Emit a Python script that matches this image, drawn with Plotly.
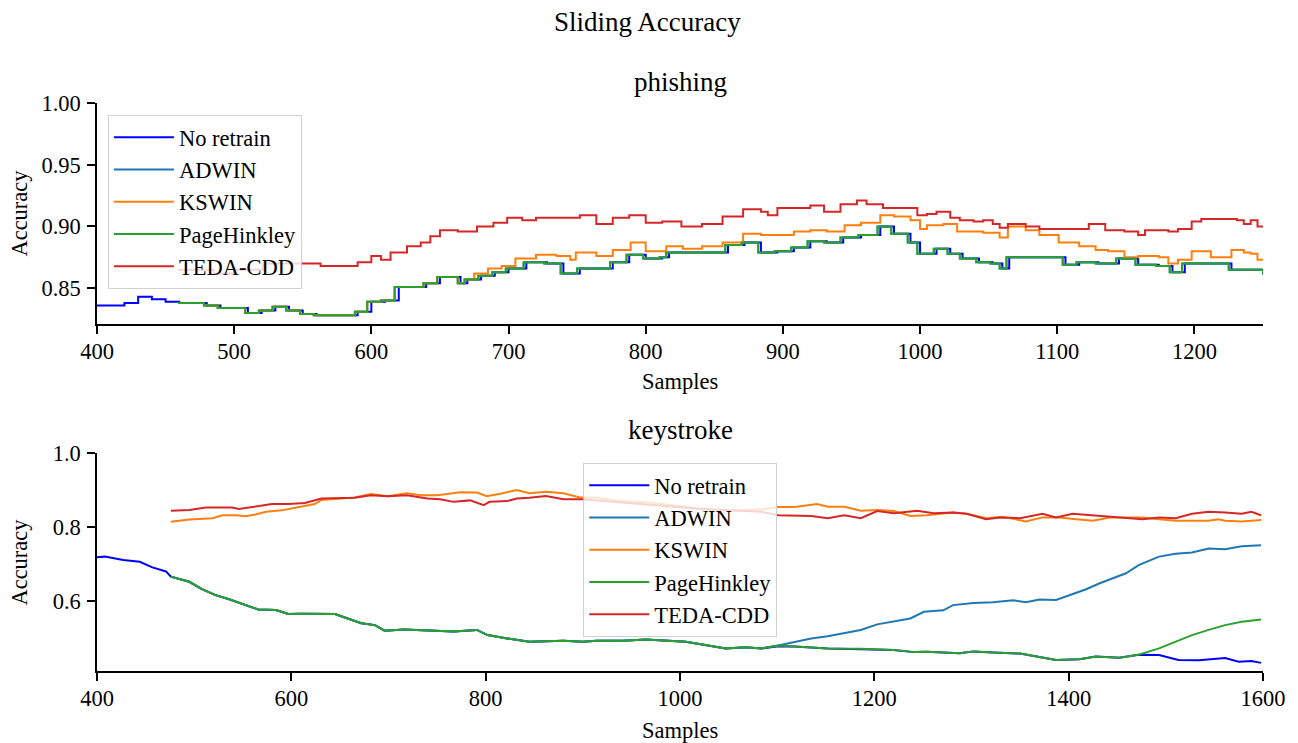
import plotly.graph_objects as go

# ---------------- phishing ----------------
phish_none_x = [400, 410, 420, 430, 440, 450, 460, 470, 480, 490, 500, 510, 520, 530, 540, 550, 560, 570, 580, 590,
                600, 610, 620, 630, 640, 650, 660, 665, 670, 680, 690, 700, 713, 728, 740, 752, 764, 776, 788, 800,
                812, 817, 836, 860, 872, 884, 896, 908, 920, 932, 944, 957, 971, 981, 993, 1000, 1012, 1022, 1031,
                1043, 1053, 1060, 1065, 1077, 1099, 1106, 1116, 1130, 1145, 1159, 1174, 1184, 1193, 1212, 1227, 1241, 1250]
phish_none_y = [.836, .836, .838, .843, .841, .839, .838, .838, .836, .834, .834, .830, .832, .835, .832, .829, .828, .828,
                .828, .831, .839, .840, .851, .851, .854, .859, .859, .854, .857, .860, .863, .866, .871, .870, .862, .866,
                .866, .871, .877, .874, .875, .879, .879, .885, .887, .879, .880, .883, .888, .887, .891, .893, .900, .894,
                .887, .878, .882, .878, .874, .871, .870, .866, .875, .875, .875, .869, .871, .870, .874, .869, .868, .863,
                .870, .870, .865, .865, .861]

phish_ph_x = [459, 468, 478, 488, 498, 508, 518, 528, 538, 548, 558, 568, 578, 588, 597, 607, 617, 628, 638, 648,
              658, 663, 668, 678, 688, 698, 711, 726, 738, 750, 762, 774, 786, 798, 810, 815, 834, 858, 870, 882,
              894, 906, 918, 930, 942, 955, 969, 979, 991, 998, 1010, 1020, 1029, 1041, 1051, 1058, 1063, 1075, 1097,
              1104, 1114, 1128, 1143, 1157, 1172, 1182, 1191, 1210, 1225, 1239, 1250]
phish_ph_y = [.838, .838, .836, .834, .834, .830, .832, .835, .832, .829,
              .828, .828, .828, .831, .839, .840, .851, .851, .854, .859,
              .859, .854, .857, .860, .863, .866, .871, .870, .862, .866,
              .866, .871, .877, .874, .875, .879, .879, .885, .887, .879,
              .880, .883, .888, .887, .891, .893, .900, .894, .887, .878,
              .882, .878, .874, .871, .870, .866, .875, .875, .875, .869,
              .871, .870, .874, .869, .868, .863, .870, .870, .865, .865, .861]

phish_adwin_x = list(phish_ph_x)
phish_adwin_y = list(phish_ph_y)

phish_kswin_x = [459, 468, 478, 488, 498, 508, 518, 528, 538, 548, 558, 568, 578, 588, 597, 607, 617, 628, 638, 648,
                 658, 663, 668, 675, 685, 695, 705, 720, 735, 745, 749, 764, 776, 789, 800, 815, 827, 841, 856, 871,
                 884, 896, 908, 920, 932, 945, 957, 971, 981, 993, 1000, 1005, 1017, 1027, 1046, 1058, 1064, 1077, 1087,
                 1101, 1111, 1116, 1128, 1137, 1149, 1159, 1174, 1181, 1188, 1198, 1212, 1227, 1236, 1241, 1246, 1250]
phish_kswin_y = [.838, .838, .836, .834, .834, .830, .832, .835, .832, .829, .828, .828, .828, .831, .839, .840, .851,
                 .851, .854, .859, .859, .854, .857,
                 .862, .866, .868, .874, .877, .876, .873, .879, .876, .881, .887, .880, .884, .882, .884, .887, .894,
                 .893, .893, .896, .897, .896, .901, .903, .909, .908, .905, .898, .901, .902, .896, .895, .891, .900,
                 .897, .893, .887, .887, .884, .881, .880, .875, .876, .875, .870, .873, .880, .875, .881, .879, .878,
                 .873, .873]

phish_teda_x = [459, 485, 500, 521, 563, 590, 600, 607, 614, 626, 636, 643, 650, 663, 677, 689, 699, 710, 720, 735,
                752, 764, 776, 788, 800, 812, 826, 841, 856, 871, 884, 889, 896, 908, 920, 930, 942, 954, 961, 973,
                981, 993, 998, 1005, 1012, 1022, 1029, 1039, 1046, 1053, 1058, 1064, 1077, 1087, 1108, 1123, 1135,
                1149, 1159, 1164, 1181, 1188, 1198, 1205, 1222, 1231, 1236, 1241, 1246, 1250]
phish_teda_y = [.865, .862, .865, .870, .868, .871, .876, .873, .879, .884, .887, .892, .897, .896, .900, .903, .907,
                .905, .907, .907, .909, .902, .907, .909, .903, .904, .900, .902, .908, .914, .912, .909, .915, .915,
                .917, .912, .918, .921, .918, .915, .915, .915, .909, .910, .912, .907, .905, .904, .905, .902, .899,
                .902, .900, .898, .898, .902, .897, .896, .893, .897, .896, .898, .904, .906, .906, .905, .902, .905,
                .900, .900]

# ---------------- keystroke ----------------
key_none_x = [400, 408, 427, 444, 457, 471, 476, 495, 508, 522, 536, 553, 566, 584, 597, 610, 631, 645, 658, 672,
              686, 696, 716, 733, 750, 767, 791, 802, 822, 845, 880, 900, 914, 941, 965, 988, 1006, 1026, 1047, 1067,
              1084, 1101, 1118, 1152, 1186, 1220, 1241, 1254, 1288, 1302, 1322, 1350, 1367, 1387, 1411, 1428, 1452,
              1472, 1493, 1513, 1534, 1561, 1575, 1588, 1598]
key_none_y = [.718, .720, .711, .706, .691, .680, .666, .652, .632, .616, .605, .589, .577, .576, .565, .566, .565, .565,
              .553, .540, .535, .520, .523, .522, .520, .518, .522, .508, .499, .490, .493, .490, .493, .493, .496, .493,
              .490, .481, .472, .475, .472, .478, .477, .472, .471, .468, .462, .463, .459, .464, .461, .458, .450, .441,
              .443, .450, .447, .455, .454, .441, .440, .446, .436, .438, .433]

key_ph_x = [476, 495, 508, 522, 536, 553, 566, 584, 597, 610, 631, 645, 658, 672, 686, 696, 716, 733, 750, 767,
            791, 802, 822, 845, 880, 900, 914, 941, 965, 988, 1006, 1026, 1047, 1067, 1084, 1101, 1118, 1152, 1186,
            1220, 1241, 1254, 1288, 1302, 1322, 1350, 1367, 1387, 1411, 1428, 1452, 1472, 1493, 1510, 1527, 1544,
            1561, 1578, 1598]
key_ph_y = [.666, .652, .632, .616, .605, .589, .577, .576, .565, .566, .565, .565, .553, .540, .535, .520, .523, .522,
            .520, .518, .522, .508, .499, .490, .493, .490, .493, .493, .496, .493, .490, .481, .472, .475, .472, .480,
            .477, .472, .471, .468, .462, .463, .459, .464, .461, .458, .450, .441, .443, .450, .447, .455, .472, .490,
            .508, .522, .535, .544, .550]

key_adwin_x = [476, 495, 508, 522, 536, 553, 566, 584, 597, 610, 631, 645, 658, 672, 686, 696, 716, 733, 750, 767,
               791, 802, 822, 845, 880, 900, 914, 941, 965, 988, 1006, 1026, 1047, 1067, 1084, 1101,
               1118, 1135, 1152, 1169, 1186, 1203, 1220, 1237, 1251, 1271, 1281, 1302, 1322, 1343, 1356, 1370, 1387,
               1401, 1418, 1432, 1445, 1459, 1472, 1493, 1510, 1527, 1544, 1561, 1578, 1598]
key_adwin_y = [.666, .652, .632, .616, .605, .589, .577, .576, .565, .566, .565, .565, .553, .540, .535, .520, .523,
               .522, .520, .518, .522, .508, .499, .490, .493, .490, .493, .493, .496, .493, .490, .481, .472, .475,
               .472, .480,
               .490, .499, .505, .513, .522, .537, .545, .553, .571, .575, .589, .595, .597, .602, .597, .604, .603,
               .616, .632, .648, .661, .675, .697, .720, .728, .731, .742, .740, .748, .751]

key_kswin_x = [476, 495, 519, 529, 543, 553, 563, 574, 590, 600, 614, 624, 631, 665, 682, 699, 719, 733, 750, 774,
               791, 801, 815, 832, 845, 862, 880, 897, 914, 931, 948, 965, 982, 999, 1016, 1036, 1067, 1084, 1101,
               1118, 1141, 1152, 1169, 1186, 1203, 1220, 1237, 1254, 1281, 1295, 1315, 1332, 1356, 1373, 1390, 1408,
               1425, 1442, 1476, 1493, 1510, 1527, 1544, 1554, 1561, 1578, 1598]
key_kswin_y = [.814, .820, .824, .832, .832, .829, .834, .841, .845, .850, .855, .862, .873, .880, .889, .883, .891,
               .886, .886, .894, .893, .883, .890, .900, .891, .895, .891, .880, .880, .873, .869, .867, .862, .855,
               .850, .845, .845, .848, .854, .854, .862, .855, .855, .844, .846, .843, .830, .832, .839, .836, .824,
               .828, .815, .826, .826, .821, .817, .826, .826, .821, .817, .817, .817, .821, .817, .815, .819]

key_teda_x = [476, 495, 512, 539, 546, 560, 580, 597, 614, 631, 648, 665, 682, 699, 719, 740, 753, 767, 784, 798,
              804, 822, 832, 845, 862, 880, 900, 914, 948, 982, 1016, 1050, 1084, 1101, 1118, 1135, 1152, 1169, 1186,
              1203, 1220, 1244, 1261, 1281, 1295, 1315, 1329, 1350, 1373, 1387, 1404, 1432, 1459, 1476, 1493, 1510,
              1527, 1544, 1561, 1578, 1588, 1598]
key_teda_y = [.844, .846, .853, .853, .849, .855, .862, .862, .865, .877, .877, .879, .886, .883, .886, .877, .875,
              .868, .872, .859, .868, .870, .877, .879, .884, .875, .875, .872, .865, .856, .850, .845, .841, .832,
              .832, .830, .824, .832, .824, .843, .837, .844, .837, .839, .836, .821, .826, .824, .836, .826, .836,
              .830, .826, .821, .826, .824, .836, .841, .839, .836, .841, .832]

names = ["No retrain", "ADWIN", "KSWIN", "PageHinkley", "TEDA-CDD"]
colors = ["#0000ff", "#1f77b4", "#ff7f0e", "#2ca02c", "#d62728"]

FONT = "Liberation Serif"
BASE = 22.5
TITLE = 27
fig = go.Figure()

phish = [(phish_none_x, phish_none_y), (phish_adwin_x, phish_adwin_y), (phish_kswin_x, phish_kswin_y),
         (phish_ph_x, phish_ph_y), (phish_teda_x, phish_teda_y)]
keys = [(key_none_x, key_none_y), (key_adwin_x, key_adwin_y), (key_kswin_x, key_kswin_y),
        (key_ph_x, key_ph_y), (key_teda_x, key_teda_y)]

for i, (xs, ys) in enumerate(phish):
    fig.add_trace(go.Scatter(x=xs, y=ys, mode="lines", name=names[i], line=dict(color=colors[i], width=2, shape="hv"),
                             xaxis="x", yaxis="y", legend="legend", legendgroup="p%d" % i))
for i, (xs, ys) in enumerate(keys):
    fig.add_trace(go.Scatter(x=xs, y=ys, mode="lines", name=names[i], line=dict(color=colors[i], width=2),
                             xaxis="x2", yaxis="y2", legend="legend2", legendgroup="k%d" % i))

axis_common = dict(showline=True, linecolor="black", linewidth=1.5, ticks="outside", ticklen=8, tickwidth=1.5,
                   tickcolor="black", showgrid=False, zeroline=False,
                   tickfont=dict(family=FONT, size=BASE, color="black"))

legend_common = dict(bgcolor="rgba(255,255,255,0.8)", bordercolor="rgba(204,204,204,0.9)", borderwidth=1,
                     font=dict(family=FONT, size=BASE, color="black"), xanchor="left", yanchor="top",
                     tracegroupgap=0, itemwidth=60)


def py(pix):
    return (671 - pix) / 568.0


def px(pix):
    return (pix - 97) / 1175.0


fig.update_layout(
    width=1298, height=743,
    margin=dict(l=97, r=26, t=103, b=72),
    paper_bgcolor="white", plot_bgcolor="white",
    font=dict(family=FONT, color="black"),
    xaxis=dict(domain=[0, 1], range=[400, 1250], dtick=100, anchor="y", ticklabelstandoff=-2, **axis_common),
    yaxis=dict(domain=[py(324), 1.0], range=[0.821, 1.0], dtick=0.05, tickformat=".2f", anchor="x",
               ticklabelstandoff=2, **axis_common),
    xaxis2=dict(domain=[0, 1], range=[400, 1600], dtick=200, anchor="y2", ticklabelstandoff=-2, **axis_common),
    yaxis2=dict(domain=[0, py(453)], range=[0.411, 1.0], tickvals=[0.6, 0.8, 1.0], tickformat=".1f",
                anchor="x2", ticklabelstandoff=2, **axis_common),
    legend=dict(x=px(108), y=py(115), **legend_common),
    legend2=dict(x=px(587), y=py(463), **legend_common),
    annotations=[
        dict(text="Sliding Accuracy", x=px(652), xref="paper", yref="paper",
             y=py(22), showarrow=False, font=dict(family=FONT, size=TITLE), xanchor="center", yanchor="middle"),
        dict(text="phishing", x=0.5, y=py(82), xref="paper", yref="paper", showarrow=False,
             font=dict(family=FONT, size=TITLE), xanchor="center", yanchor="middle"),
        dict(text="keystroke", x=0.5, y=py(430), xref="paper", yref="paper", showarrow=False,
             font=dict(family=FONT, size=TITLE), xanchor="center", yanchor="middle"),
        dict(text="Samples", x=0.5, y=py(381), xref="paper", yref="paper", showarrow=False,
             font=dict(family=FONT, size=BASE), xanchor="center", yanchor="middle"),
        dict(text="Samples", x=0.5, y=py(730), xref="paper", yref="paper", showarrow=False,
             font=dict(family=FONT, size=BASE), xanchor="center", yanchor="middle"),
        dict(text="Accuracy", x=px(18), y=py(213), xref="paper", yref="paper", showarrow=False, textangle=-90,
             font=dict(family=FONT, size=BASE), xanchor="center", yanchor="middle"),
        dict(text="Accuracy", x=px(18), y=py(562), xref="paper", yref="paper", showarrow=False, textangle=-90,
             font=dict(family=FONT, size=BASE), xanchor="center", yanchor="middle"),
    ],
)

fig.write_html("out.html")
